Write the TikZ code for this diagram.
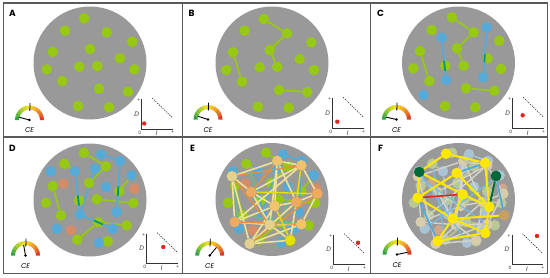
\documentclass[tikz,border=0pt]{standalone}
\usepackage{fontspec}
\setmainfont{Poppins}
\pgfdeclarelayer{disc}
\pgfdeclarelayer{back}
\pgfdeclarelayer{edges}
\pgfdeclarelayer{top}
\pgfsetlayers{disc,back,edges,main,top}
\definecolor{discc}{RGB}{153,153,153}
\definecolor{framec}{RGB}{90,90,90}
\definecolor{gn}{RGB}{150,200,20}
\definecolor{bl}{RGB}{85,170,215}
\definecolor{sa}{RGB}{212,140,105}
\definecolor{tl}{RGB}{0,150,130}
\definecolor{eo1}{RGB}{240,195,110}
\definecolor{eo2}{RGB}{238,170,95}
\definecolor{ebg}{RGB}{228,210,140}
\definecolor{eyl}{RGB}{228,225,0}
\definecolor{py}{RGB}{240,225,150}
\definecolor{orl}{RGB}{228,145,70}
\definecolor{fy}{RGB}{255,232,0}
\definecolor{fk}{RGB}{0,105,55}
\definecolor{ft}{RGB}{200,160,100}
\definecolor{pgn}{RGB}{185,200,150}
\definecolor{pbl}{RGB}{170,195,212}
\definecolor{psa}{RGB}{208,165,140}
\definecolor{pbe}{RGB}{215,205,170}
\definecolor{pln}{RGB}{212,212,200}
\definecolor{redd}{RGB}{230,35,30}
\definecolor{gc1}{RGB}{50,160,70}
\definecolor{gc2}{RGB}{90,180,60}
\definecolor{gc3}{RGB}{130,195,50}
\definecolor{gc4}{RGB}{170,205,40}
\definecolor{gc5}{RGB}{205,215,40}
\definecolor{gc6}{RGB}{235,220,40}
\definecolor{gc7}{RGB}{245,210,40}
\definecolor{gc8}{RGB}{245,185,40}
\definecolor{gc9}{RGB}{240,160,40}
\definecolor{gc10}{RGB}{235,130,40}
\definecolor{gc11}{RGB}{230,100,40}
\definecolor{gc12}{RGB}{220,60,40}

\newcommand\gauge[4]{%
  \begin{scope}[shift={(#1,#2)},yscale=-1]
    \foreach \a/\c in {180/gc1,165/gc2,150/gc3,135/gc4,120/gc5,105/gc6,90/gc7,75/gc8,60/gc9,45/gc10,30/gc11,15/gc12}
      \fill[\c] ({\a+0.5}:10.5) arc[start angle={\a+0.5}, end angle={\a-15}, radius=10.5]
        -- ({\a-15}:14.5) arc[start angle={\a-15}, end angle={\a+0.5}, radius=14.5] -- cycle;
    \draw[line width=0.8pt] (88:9) -- (88:17);
    \draw[line width=0.9pt] (0,0) -- (#3:10.5);
    \fill (0,0) circle[radius=1.4];
  \end{scope}
  \node[cel] (ce#4) at (#1,#2+10.5) {CE};
}
\newcommand\minichart[5]{%
  \draw[axl] (#1,#2-30) -- (#1,#2) -- (#1+31,#2);
  \draw[black!85, line width=0.6pt, dash pattern=on 1.2pt off 1.2pt] (#1+10.5,#2-31) -- (#1+31,#2-11);
  \fill[redd] (#1+#3,#2-#4) circle[radius=2.2];
  \node[tinyl] (pa#5) at (#1-3,#2-29) {+};
  \node[axlab] (dl#5) at (#1-5,#2-15) {D};
  \node[tinyl] (zr#5) at (#1-2,#2+3.5) {0};
  \node[axlab] (il#5) at (#1+15,#2+4.5) {I};
  \node[tinyl] (pb#5) at (#1+31,#2+3.5) {+};
}
\newcommand\xing[4]{%
  \begin{pgfonlayer}{top}
    \begin{scope}
      \clip (#1.center) circle[radius=5.3];
      \draw[line width=1.8pt, #4] (#2) -- (#3);
    \end{scope}
  \end{pgfonlayer}
}

\def\Gl{84/152.7,64.3/163.7,106/166.3,52.7/186,89/183,119.3/191.3,46/202.7,79/200.3,96.7/199.3,133.3/203,61/215.3,98.3/222.3,126.7/225.3,77.3/239.7,107.7/241.3}
\def\Bl{101/154.3,120/161,50.7/171.3,75/171.3,95/168.7,131.7/175.3,106/187,80/214.3,116.7/212,56.7/228.7,112.7/228.7,99/242.7}
\def\Sl{63.3/183.7,134.3/188.7,71/230.3}
\def\GE{g1/g3,g3/g5,g4/g11,g9/g10,g12/g13,g14/g12,b6/g6,g2/b4}
\def\BE{b1/b2,b2/b9,b5/b8,b4/b8,b8/b11}
\def\Fl{277.3/161/eo1,301.3/165.3/eo1,232/176.3/ebg,251.3/192/eo2,317.3/193.7/eo2,274.7/206/eo1,296.3/202/eo2,234.7/222/eo2,269.7/224.7/ebg,301.3/224.3/eo1,249.7/243.7/ebg,290.3/240.3/eyl}
\def\PE{f1/f2,f1/f3,f1/f6,f1/f9,f2/f5,f2/f4,f3/f4,f3/f8,f4/f6,f4/f9,f5/f7,f5/f10,f6/f7,f6/f8,f6/f11,f7/f11,f8/f9,f9/f10,f10/f11,f11/f12,f3/f11,f2/f8,f9/f12,f7/f12,f1/f7}

\begin{document}
\begin{tikzpicture}[x=1pt,y=-1pt,
  nd/.style={circle,inner sep=0pt,minimum size=10.6pt,fill=#1},
  dsc/.style={circle,inner sep=0pt,minimum size=113pt,fill=discc},
  gE/.style={draw=gn,line width=1.8pt},
  bE/.style={draw=bl,line width=1.8pt},
  lab/.style={font=\bfseries\fontsize{9}{9}\selectfont,inner sep=0pt},
  cel/.style={font=\itshape\fontsize{7}{7}\selectfont,inner sep=0pt},
  axlab/.style={font=\itshape\fontsize{6.5}{6.5}\selectfont,inner sep=0pt,text=black!80},
  tinyl/.style={font=\fontsize{4.5}{4.5}\selectfont,inner sep=0pt,text=black!80},
  axl/.style={draw=black!80,line width=0.7pt}]
\useasboundingbox (0,0) rectangle (550,277);
% discs
\begin{pgfonlayer}{disc}
\fill[white] (0,0) rectangle (550,277);
\node[dsc] (discA) at (90,63) {};
\node[dsc] (discB) at (272,63) {};
\node[dsc] (discC) at (458.5,63) {};
\node[dsc] (discD) at (90,200) {};
\node[dsc] (discE) at (272,199.5) {};
\node[dsc] (discF) at (458.5,199.5) {};
\end{pgfonlayer}
% frame
\draw[framec,line width=1.3pt] (3.5,3) rectangle (547.5,273.5);
\draw[framec,line width=1.3pt] (182.5,3) -- (182.5,273.5);
\draw[framec,line width=1.3pt] (370.5,3) -- (370.5,273.5);
\draw[framec,line width=1.3pt] (3.5,137) -- (547.5,137);
% letters
\node[lab] (LA) at (12.5,13) {A};
\node[lab] (LB) at (191.5,13) {B};
\node[lab] (LC) at (380.5,13) {C};
\node[lab] (LD) at (12.5,148) {D};
\node[lab] (LE) at (192.5,148) {E};
\node[lab] (LF) at (380.5,148) {F};

% ---------- A
\foreach \x/\y [count=\i] in {84.3/18.3,65/30.7,106.7/32.3,132.3/41.7,52.7/51.7,90/49,120/58.3,46.7/69.3,79.3/66.7,97.3/66,134.3/69.3,62.3/81,99/88.7,128/91.7,78/106,109/107.3}
  \node[nd=gn] (A-g\i) at (\x,\y) {};

% ---------- B
\foreach \x/\y [count=\i] in {263.7/19,287/33.3,244.7/30.7,311.3/42.3,233/52.3,269.7/50,299.7/59,226.3/70,259.7/67.3,277.3/66.7,314/70,242/81.7,279/90,307.3/92,258/106.7,288.7/107.7}
  \node[nd=gn] (B-g\i) at (\x,\y) {};
\begin{pgfonlayer}{edges}
\foreach \u/\v in {g1/g2,g2/g6,g6/g10,g5/g12,g13/g14}
  \draw[gE] (B-\u) -- (B-\v);
\end{pgfonlayer}

% ---------- C
\foreach \x/\y [count=\i] in {452/17.3,431.7/30,473.7/32.3,499.3/40.7,420/51,457/48.3,487.7/58.3,413.3/68.3,445.3/65.7,463.7/65.7,501/69,429.3/81,466/88.3,494.3/90.7,445/106,475.3/107.3}
  \node[nd=gn] (C-g\i) at (\x,\y) {};
\foreach \x/\y [count=\i] in {486.7/27.3,441.7/37.7,446/80,483.3/77.3,423.3/95}
  \node[nd=bl] (C-b\i) at (\x,\y) {};
\begin{pgfonlayer}{edges}
\foreach \u/\v in {g1/g3,g3/g6,g6/g10,g5/g12,g13/g14}
  \draw[gE] (C-\u) -- (C-\v);
\foreach \u/\v in {b2/b3,b1/b4}
  \draw[bE] (C-\u) -- (C-\v);
\end{pgfonlayer}
\xing{C-g9}{C-b2}{C-b3}{tl}
\xing{C-g7}{C-b1}{C-b4}{tl}

% ---------- D
\foreach \x/\y [count=\i] in \Gl \node[nd=gn] (D-g\i) at (\x,\y) {};
\foreach \x/\y [count=\i] in \Bl \node[nd=bl] (D-b\i) at (\x,\y) {};
\foreach \x/\y [count=\i] in \Sl \node[nd=sa] (D-s\i) at (\x,\y) {};
\begin{pgfonlayer}{edges}
\foreach \u/\v in \GE \draw[gE] (D-\u) -- (D-\v);
\foreach \u/\v in \BE \draw[bE] (D-\u) -- (D-\v);
\end{pgfonlayer}
\xing{D-g6}{D-b2}{D-b9}{tl}
\xing{D-g8}{D-b4}{D-b8}{tl}
\xing{D-g12}{D-b8}{D-b11}{tl}

% ---------- E
\begin{pgfonlayer}{back}
\foreach \x/\y [count=\i] in \Gl \node[nd=gn] (E-g\i) at (\x+182,\y) {};
\foreach \x/\y [count=\i] in \Bl \node[nd=bl] (E-b\i) at (\x+182,\y) {};
\foreach \x/\y [count=\i] in \Sl \node[nd=sa] (E-s\i) at (\x+182,\y) {};
\end{pgfonlayer}
\foreach \x/\y/\c [count=\i] in \Fl \node[nd=\c] (E-f\i) at (\x,\y) {};
\begin{pgfonlayer}{edges}
\foreach \u/\v in \GE \draw[gE] (E-\u) -- (E-\v);
\foreach \u/\v in \BE \draw[bE] (E-\u) -- (E-\v);
\foreach \u/\v in {g2/g8,b3/b10,b7/b12,g11/g13}
  \draw[gE,draw=bl!60!gn] (E-\u) -- (E-\v);
\foreach \u/\v in \PE \draw[py,line width=1.6pt] (E-\u) -- (E-\v);
\foreach \u/\v in {f1/f4,f8/f10,f5/f11,f3/f9,f2/f3}
  \draw[orl,line width=1.4pt] (E-\u) -- (E-\v);
\foreach \u/\v in {f4/f5,f6/f12,f2/f7}
  \draw[eyl,line width=1.4pt] (E-\u) -- (E-\v);
\end{pgfonlayer}

% ---------- F
\begin{pgfonlayer}{back}
\foreach \x/\y [count=\i] in \Gl \node[nd=pgn] (F-g\i) at (\x+368,\y) {};
\foreach \x/\y [count=\i] in \Bl \node[nd=pbl] (F-b\i) at (\x+368,\y) {};
\foreach \x/\y [count=\i] in \Sl \node[nd=psa] (F-s\i) at (\x+368,\y) {};
\foreach \x/\y/\c [count=\i] in \Fl \node[nd=pbe] (F-f\i) at (\x+186,\y) {};
\end{pgfonlayer}
\foreach \x/\y [count=\i] in {446/153.7,485/163,456.7/173,417.7/197.7,462.7/194.3,489.3/207,452.7/218.7,485.3/233,437.7/241}
  \node[nd=fy] (F-y\i) at (\x,\y) {};
\node[nd=fk] (F-k1) at (419.3,172) {};
\node[nd=fk] (F-k2) at (496,176) {};
\node[nd=ft] (F-t1) at (504.3,215.3) {};
\begin{pgfonlayer}{edges}
\foreach \u/\v in \GE \draw[pgn,line width=1.6pt] (F-\u) -- (F-\v);
\foreach \u/\v in \BE \draw[pbl,line width=1.6pt] (F-\u) -- (F-\v);
\foreach \u/\v in \PE \draw[pln,line width=1.4pt] (F-\u) -- (F-\v);
\foreach \u/\v in {b3/b12,g2/g14,b6/b10,f3/f10}
  \draw[bl!80,line width=1.3pt] (F-\u) -- (F-\v);
\foreach \u/\v in {y1/y2,y1/k1,k1/y5,y3/y6,y3/y4,y4/y7,y7/y8,y9/y8,y7/y5,y7/t1,y5/y6,y6/y8,y9/y7,k1/y4,y2/y6}
  \draw[fy,line width=2pt] (F-\u) -- (F-\v);
\foreach \u/\v in {y3/y2,k2/t1,y4/y9}
  \draw[bl,line width=1.8pt] (F-\u) -- (F-\v);
\draw[redd,line width=1.6pt] (F-y4) -- (F-y5);
\draw[fk,line width=1.8pt] (F-k2) -- (F-y6);
\end{pgfonlayer}

% ---------- gauges and charts
\gauge{29.5}{120}{165}{A}
\gauge{208}{119.5}{162}{B}
\gauge{396.5}{119.5}{167}{C}
\gauge{25.5}{255.5}{100}{D}
\gauge{209.7}{255.5}{50}{E}
\gauge{397}{254.5}{12}{F}
\minichart{141.7}{129}{2.5}{5.5}{A}
\minichart{332.7}{128.3}{4.6}{6.6}{B}
\minichart{512.7}{128.3}{10}{13}{C}
\minichart{146.7}{263.7}{16.6}{16.7}{D}
\minichart{333.7}{264.7}{24.3}{22}{E}
\minichart{512}{264.7}{25}{28.7}{F}
\end{tikzpicture}
\end{document}
